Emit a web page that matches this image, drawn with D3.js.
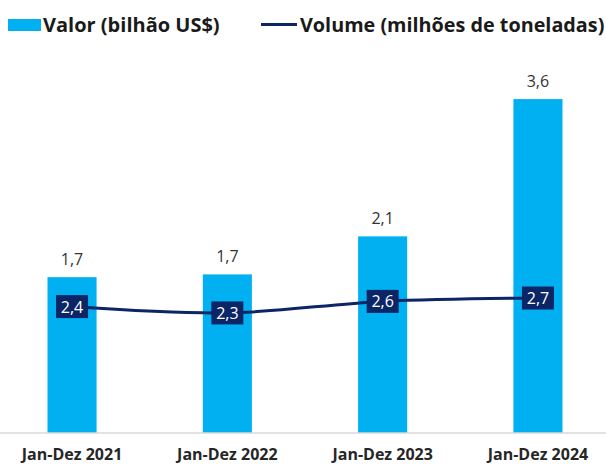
<!DOCTYPE html>
<html>
<head>
<meta charset="utf-8">
<script src="https://cdn.jsdelivr.net/npm/d3@7"></script>
<style>
  body { margin: 0; background: #fff; }
  svg { display: block; font-family: "Open Sans", sans-serif; }
</style>
</head>
<body>
<svg id="chart"></svg>
<script>
const categories = ["Jan-Dez 2021", "Jan-Dez 2022", "Jan-Dez 2023", "Jan-Dez 2024"];
const valor = [1.68, 1.71, 2.12, 3.6];     // bilhão US$
const volume = [2.44, 2.27, 2.58, 2.67];   // milhões de toneladas

const width = 606;
const height = 464;
const baseY = 433;

const barColor = "#00b0f0";
const navy = "#0c2566";

const svg = d3.select("#chart")
  .attr("width", width)
  .attr("height", height);

const x = d3.scaleBand()
  .domain(categories)
  .range([-5.6, 615.6])
  .paddingInner(0.684)
  .paddingOuter(0.342);

const y = d3.scaleLinear()
  .domain([0, 4])
  .range([baseY, 62]);

// secondary axis for the line
const y2 = d3.scaleLinear()
  .domain([-0.95, 9])
  .range([baseY, 62]);

const fmt = v => d3.format(".1f")(v).replace(".", ",");

// Bars
svg.selectAll("rect.bar")
  .data(valor)
  .enter()
  .append("rect")
  .attr("class", "bar")
  .attr("x", (d, i) => x(categories[i]))
  .attr("y", d => y(d))
  .attr("width", x.bandwidth())
  .attr("height", d => baseY - y(d))
  .attr("fill", barColor);

// Bar labels
svg.selectAll("text.barlab")
  .data(valor)
  .enter()
  .append("text")
  .attr("class", "barlab")
  .attr("x", (d, i) => x(categories[i]) + x.bandwidth() / 2)
  .attr("y", d => y(d) - 12)
  .attr("text-anchor", "middle")
  .attr("font-size", 16)
  .attr("fill", "#333")
  .text(fmt);

// X axis
const xAxis = svg.append("g")
  .attr("transform", `translate(0,${baseY})`)
  .call(d3.axisBottom(x).tickSize(0).tickPadding(0));
xAxis.select(".domain").remove();
xAxis.append("line")
  .attr("x1", 0).attr("x2", width)
  .attr("stroke", "#d9d9d9").attr("stroke-width", 1.5);
xAxis.selectAll(".tick text")
  .attr("y", 27)
  .attr("dy", 0)
  .attr("font-size", 16)
  .attr("font-weight", "bold")
  .attr("font-family", "Open Sans, sans-serif")
  .attr("fill", "#262626");

// Line
const pts = volume.map((v, i) => [x(categories[i]) + x.bandwidth() / 2, y2(v)]);
svg.append("path")
  .datum(pts)
  .attr("fill", "none")
  .attr("stroke", navy)
  .attr("stroke-width", 3)
  .attr("d", d3.line().curve(d3.curveCatmullRom.alpha(0.5)));

// Line labels (boxes)
const lab = svg.selectAll("g.vlab")
  .data(volume)
  .enter()
  .append("g")
  .attr("class", "vlab")
  .attr("transform", (d, i) => `translate(${pts[i][0]},${pts[i][1]})`);
lab.append("rect")
  .attr("x", -16).attr("y", -11.5)
  .attr("width", 32).attr("height", 23)
  .attr("fill", navy);
lab.append("text")
  .attr("text-anchor", "middle")
  .attr("y", 6)
  .attr("font-size", 16)
  .attr("fill", "#fff")
  .text(fmt);

// Legend
const legend = svg.append("g");
legend.append("rect")
  .attr("x", 8).attr("y", 19)
  .attr("width", 33).attr("height", 12)
  .attr("fill", barColor);
legend.append("text")
  .attr("x", 43).attr("y", 32)
  .attr("font-size", 20)
  .attr("font-weight", "bold")
  .attr("fill", "#1a1a1a")
  .text("Valor (bilhão US$)");
legend.append("line")
  .attr("x1", 261).attr("x2", 297)
  .attr("y1", 24.5).attr("y2", 24.5)
  .attr("stroke", navy).attr("stroke-width", 3);
legend.append("text")
  .attr("x", 300).attr("y", 32)
  .attr("font-size", 19.8)
  .attr("font-weight", "bold")
  .attr("fill", "#1a1a1a")
  .text("Volume (milhões de toneladas)");
</script>
</body>
</html>
